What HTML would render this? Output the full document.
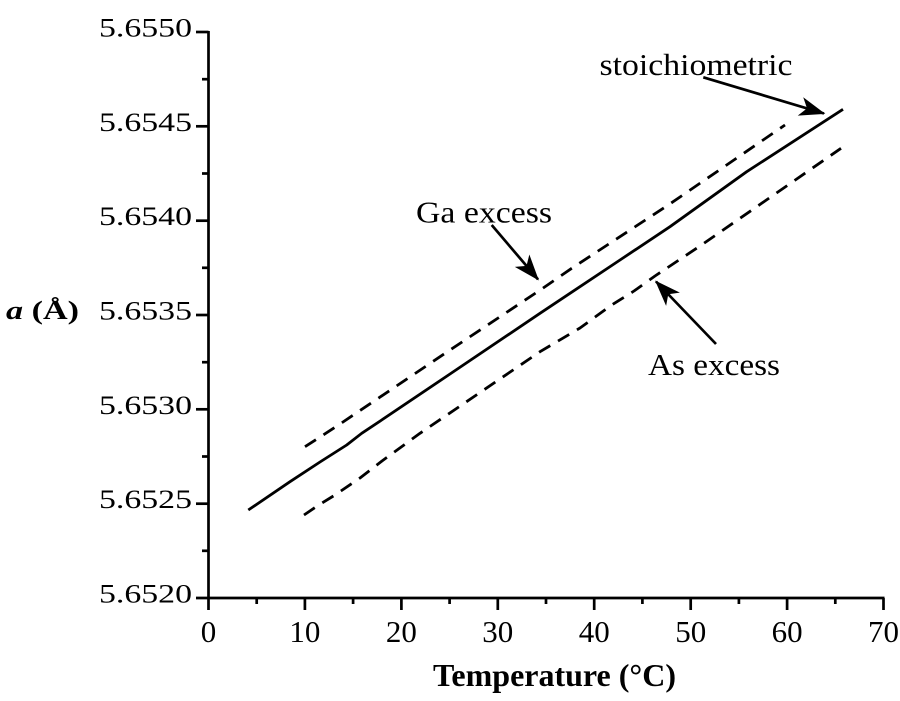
<!DOCTYPE html>
<html>
<head>
<meta charset="utf-8">
<style>
html,body{margin:0;padding:0;background:#fff;}
svg{display:block;}
text{font-family:"Liberation Serif","DejaVu Serif",serif;fill:#000;}
</style>
</head>
<body>
<svg width="900" height="701" viewBox="0 0 900 701" xmlns="http://www.w3.org/2000/svg">
<defs>
<marker id="ah" markerUnits="userSpaceOnUse" markerWidth="30" markerHeight="30" refX="0" refY="0" viewBox="-20 -10 22 20" orient="auto">
<path d="M1,0 L-18,-7 L-13,0 L-18,7 Z" fill="#000"/>
</marker>
</defs>

<!-- axes -->
<g stroke="#000" stroke-width="2.7" fill="none">
<line x1="208.5" y1="31" x2="208.5" y2="599"/>
<line x1="196" y1="598" x2="884.5" y2="598"/>
<!-- y major ticks -->
<line x1="196" y1="32" x2="208.5" y2="32"/>
<line x1="196" y1="126.3" x2="208.5" y2="126.3"/>
<line x1="196" y1="220.7" x2="208.5" y2="220.7"/>
<line x1="196" y1="315" x2="208.5" y2="315"/>
<line x1="196" y1="409.3" x2="208.5" y2="409.3"/>
<line x1="196" y1="503.7" x2="208.5" y2="503.7"/>
<!-- y minor ticks -->
<line x1="202" y1="79.2" x2="208.5" y2="79.2"/>
<line x1="202" y1="173.5" x2="208.5" y2="173.5"/>
<line x1="202" y1="267.8" x2="208.5" y2="267.8"/>
<line x1="202" y1="362.2" x2="208.5" y2="362.2"/>
<line x1="202" y1="456.5" x2="208.5" y2="456.5"/>
<line x1="202" y1="550.8" x2="208.5" y2="550.8"/>
<!-- x major ticks -->
<line x1="208.5" y1="598" x2="208.5" y2="610"/>
<line x1="304.9" y1="598" x2="304.9" y2="610"/>
<line x1="401.4" y1="598" x2="401.4" y2="610"/>
<line x1="497.8" y1="598" x2="497.8" y2="610"/>
<line x1="594.2" y1="598" x2="594.2" y2="610"/>
<line x1="690.7" y1="598" x2="690.7" y2="610"/>
<line x1="787.1" y1="598" x2="787.1" y2="610"/>
<line x1="883.5" y1="598" x2="883.5" y2="610"/>
<!-- x minor ticks -->
<line x1="256.7" y1="598" x2="256.7" y2="604"/>
<line x1="353.1" y1="598" x2="353.1" y2="604"/>
<line x1="449.6" y1="598" x2="449.6" y2="604"/>
<line x1="546" y1="598" x2="546" y2="604"/>
<line x1="642.4" y1="598" x2="642.4" y2="604"/>
<line x1="738.9" y1="598" x2="738.9" y2="604"/>
<line x1="835.3" y1="598" x2="835.3" y2="604"/>
</g>

<!-- y tick labels -->
<g font-size="26">
<text x="99" y="36.5" textLength="93" lengthAdjust="spacingAndGlyphs">5.6550</text>
<text x="99" y="130.8" textLength="93" lengthAdjust="spacingAndGlyphs">5.6545</text>
<text x="99" y="225.2" textLength="93" lengthAdjust="spacingAndGlyphs">5.6540</text>
<text x="99" y="319.5" textLength="93" lengthAdjust="spacingAndGlyphs">5.6535</text>
<text x="99" y="413.8" textLength="93" lengthAdjust="spacingAndGlyphs">5.6530</text>
<text x="99" y="508.2" textLength="93" lengthAdjust="spacingAndGlyphs">5.6525</text>
<text x="99" y="602.5" textLength="93" lengthAdjust="spacingAndGlyphs">5.6520</text>
</g>

<!-- x tick labels -->
<g font-size="31" text-anchor="middle">
<text x="208.5" y="642">0</text>
<text x="304.9" y="642">10</text>
<text x="401.4" y="642">20</text>
<text x="497.8" y="642">30</text>
<text x="594.2" y="642">40</text>
<text x="690.7" y="642">50</text>
<text x="787.1" y="642">60</text>
<text x="883.5" y="642">70</text>
</g>

<!-- axis titles -->
<text x="6" y="319" font-size="26" font-weight="bold" textLength="73" lengthAdjust="spacingAndGlyphs"><tspan font-style="italic">a</tspan> (Å)</text>
<text x="433" y="686" font-size="32" font-weight="bold">Temperature (°C)</text>

<!-- series -->
<g fill="none" stroke="#000" stroke-width="2.8" stroke-linejoin="round">
<polyline points="248.3,510 290,481.7 320,462 346.7,445 361.7,433.3 381.7,420 450,374 540,313.3 570,293.3 620,260 670,226.7 746.7,171.7 843,109.3"/>
<polyline stroke-dasharray="13,9" points="305,446.7 326.7,432.7 340,424 450,350 541.7,289 571.7,268.3 668.3,205 785,125"/>
<polyline stroke-dasharray="13,9" points="304,515 318,505.5 335,495 360,478 382,461 420,433.3 540,351.7 580,328 611.7,305 634,291 655,276 700,246 841,148.3"/>
</g>

<!-- annotation arrows -->
<g stroke="#000" stroke-width="2.7" fill="none">
<line x1="491.7" y1="225" x2="538" y2="279.4" marker-end="url(#ah)"/>
<line x1="703.3" y1="77.3" x2="824" y2="113.5" marker-end="url(#ah)"/>
<line x1="716" y1="344" x2="656" y2="281.5" marker-end="url(#ah)"/>
</g>

<!-- annotation labels -->
<g font-size="31">
<text x="416" y="222.3" textLength="136" lengthAdjust="spacingAndGlyphs">Ga excess</text>
<text x="599.5" y="75" textLength="193" lengthAdjust="spacingAndGlyphs">stoichiometric</text>
<text x="648" y="375" textLength="132" lengthAdjust="spacingAndGlyphs">As excess</text>
</g>
</svg>
</body>
</html>
